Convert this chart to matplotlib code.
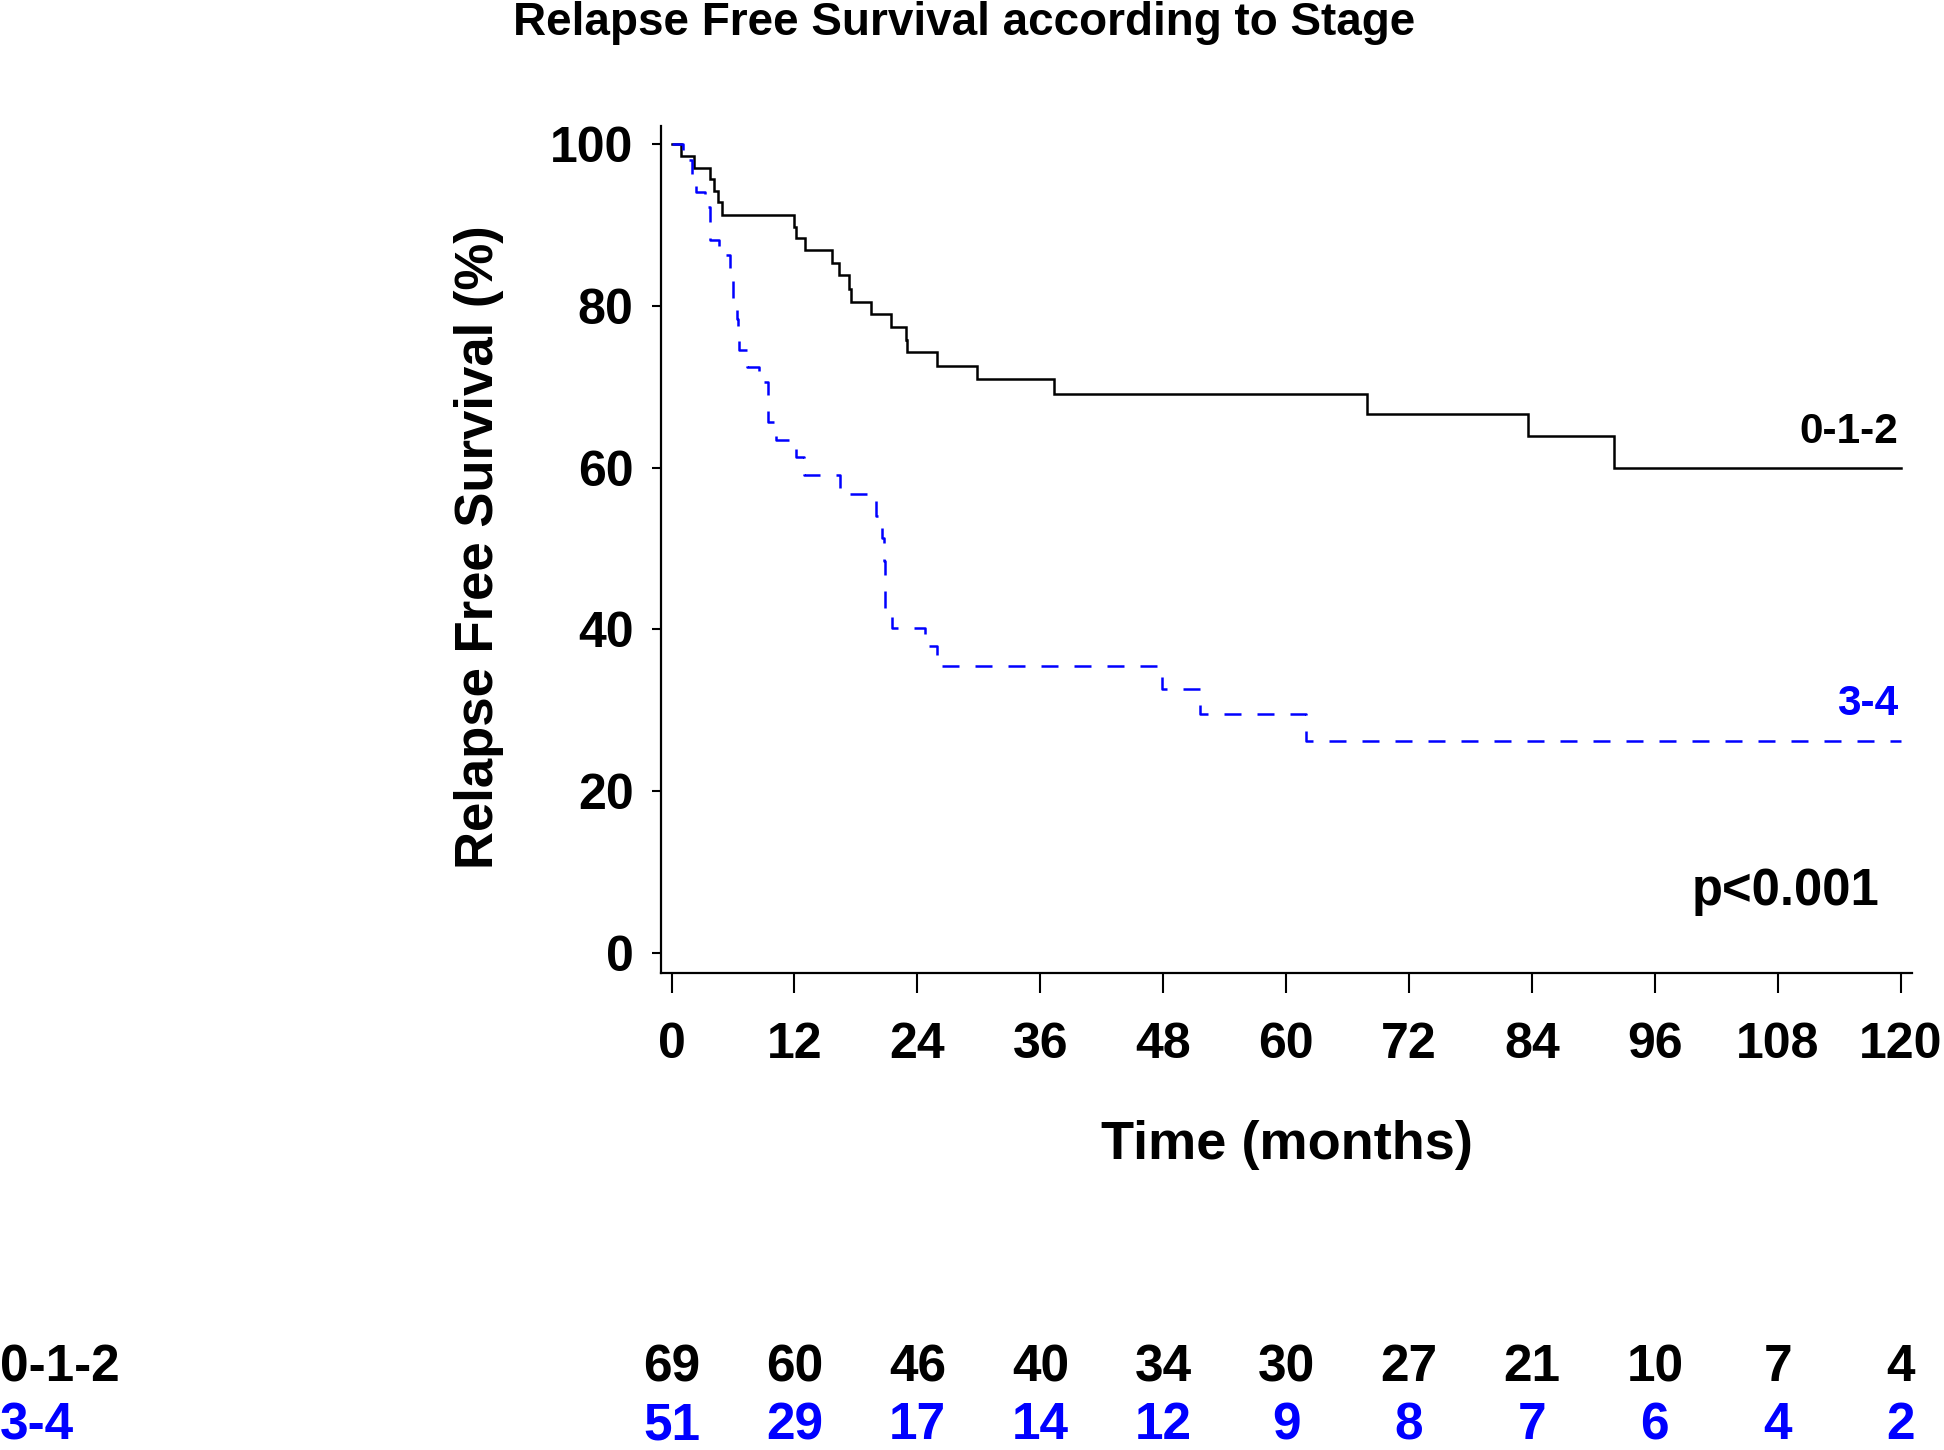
import matplotlib
matplotlib.use("Agg")
import matplotlib.pyplot as plt
import matplotlib.transforms as mtransforms

plt.rcParams['font.family'] = ['Liberation Sans', 'DejaVu Sans']
plt.rcParams['font.weight'] = 'bold'

# ---- data ----
group_labels = ["0-1-2", "3-4"]
group_colors = ["#000000", "#0000FF"]

black_time = [0, 0.88, 2.2, 3.75, 4.14, 4.56, 4.89, 11.95, 12.1, 13.0, 15.7, 16.3,
              17.3, 17.55, 19.47, 21.4, 22.85, 23.0, 25.9, 29.85, 37.35, 67.9, 83.6,
              92.0, 120]
black_surv = [100, 98.6, 97.1, 95.7, 94.2, 92.8, 91.3, 89.8, 88.4, 86.9, 85.3, 83.8,
              82.1, 80.5, 79.0, 77.4, 75.8, 74.3, 72.6, 71.0, 69.1, 66.7, 63.9,
              59.9, 59.9]

blue_time = [0, 1.1, 1.96, 2.4, 3.3, 3.75, 3.8, 4.6, 5.7, 5.95, 6.0, 6.35, 6.5, 6.55,
             7.4, 8.5, 9.4, 9.45, 10.2, 12.15, 12.9, 16.4, 19.96, 20.5, 20.75, 20.8,
             20.85, 21.5, 24.7, 25.9, 47.9, 51.6, 61.9, 120]
blue_surv = [100, 98.0, 96.1, 94.1, 92.2, 90.2, 88.2, 86.3, 84.3, 82.4, 80.4, 78.4,
             76.5, 74.5, 72.5, 70.6, 68.6, 65.6, 63.4, 61.3, 59.1, 56.8, 54.0, 51.3,
             48.5, 45.6, 42.6, 40.2, 38.0, 35.5, 32.6, 29.5, 26.2, 26.2]

x_ticks = [0, 12, 24, 36, 48, 60, 72, 84, 96, 108, 120]
y_ticks = [0, 20, 40, 60, 80, 100]

at_risk_012 = [69, 60, 46, 40, 34, 30, 27, 21, 10, 7, 4]
at_risk_34 = [51, 29, 17, 14, 12, 9, 8, 7, 6, 4, 2]

title = "Relapse Free Survival according to Stage"
xlabel = "Time (months)"
ylabel = "Relapse Free Survival (%)"
pval = "p<0.001"

# ---- figure ----
W, H = 1944, 1450
fig = plt.figure(figsize=(W / 100, H / 100), dpi=100)
ax = fig.add_axes([660.5 / W, 1 - 973 / H, (1912 - 660.5) / W, (973 - 126) / H])

ax.step(black_time, black_surv, where='post', color=group_colors[0], lw=1.8,
        solid_joinstyle='miter')
ax.step(blue_time, blue_surv, where='post', color=group_colors[1], lw=1.8,
        linestyle=(0, (6.8, 6.4)))

ax.set_xlim(-1.08, 121.1)
ax.set_ylim(-2.5, 102.26)
for s in ['top', 'right']:
    ax.spines[s].set_visible(False)
for s in ['left', 'bottom']:
    ax.spines[s].set_linewidth(1.6)

ax.set_xticks(x_ticks)
ax.set_yticks(y_ticks)
ax.tick_params(axis='x', direction='out', length=14.4, width=1.5, pad=21,
               labelsize=36)
ax.tick_params(axis='y', direction='out', length=6.5, width=1.5, pad=13,
               labelsize=36)
for lab in ax.get_xticklabels() + ax.get_yticklabels():
    lab.set_fontweight('bold')

ax.set_xlabel(xlabel, fontsize=39, fontweight='bold', va='top')
ax.xaxis.set_label_coords((1286.7 - 660.5) / (1912 - 660.5), (973 - 1120) / (973 - 126))
ax.set_ylabel(ylabel, fontsize=38, fontweight='bold', va='center')
ax.yaxis.set_label_coords((479 - 660.5) / (1912 - 660.5), (973 - 547) / (973 - 126))

fig.suptitle(title, x=964 / W, y=1 - 35 / H, va='baseline', ha='center',
             fontsize=33, fontweight='bold')

# curve labels
ax.text(119.8, 63.05, group_labels[0], color=group_colors[0], ha='right',
        va='baseline', fontsize=30.5, fontweight='bold')
ax.text(119.8, 29.4, group_labels[1], color=group_colors[1], ha='right',
        va='baseline', fontsize=30.5, fontweight='bold')
ax.text(117.9, 5.9, pval, ha='right', va='baseline', fontsize=36.5,
        fontweight='bold')

# number at risk table
trans = mtransforms.blended_transform_factory(ax.transData, fig.transFigure)
rows = [(at_risk_012, group_colors[0], group_labels[0], 1 - 1381 / H),
        (at_risk_34, group_colors[1], group_labels[1], 1 - 1439 / H)]
for vals, col, lab, yb in rows:
    fig.text(0.0, yb, lab, color=col, ha='left', va='baseline', fontsize=37,
             fontweight='bold')
    for xt, v in zip(x_ticks, vals):
        ax.text(xt, yb, str(v), transform=trans, color=col, ha='center',
                va='baseline', fontsize=37, fontweight='bold', clip_on=False)

fig.savefig("out.png", dpi=100)
